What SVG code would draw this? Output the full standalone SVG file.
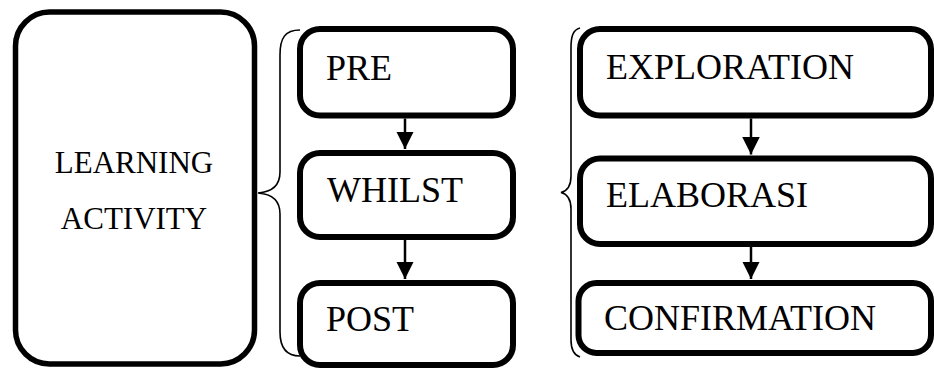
<svg xmlns="http://www.w3.org/2000/svg" width="934" height="369" viewBox="0 0 934 369">
<style>
.box{fill:#fff;stroke:#000;stroke-width:6}
.big{fill:#fff;stroke:#000;stroke-width:5.5}
.t{font-family:"Liberation Serif","Times New Roman",serif;font-size:36px;fill:#000}
.tl{font-family:"Liberation Serif","Times New Roman",serif;font-size:31px;fill:#000;text-anchor:middle}
.brace{fill:none;stroke:#000;stroke-width:1.6}
.ln{stroke:#000;stroke-width:2.5}
</style>
<defs>
<marker id="ah" markerWidth="8" markerHeight="7" refX="7" refY="3.5" orient="auto" markerUnits="strokeWidth">
<path d="M0,0 L7,3.5 L0,7 Z" fill="#000"/>
</marker>
</defs>
<rect width="934" height="369" fill="#fff"/>
<g id="learning-activity">
<rect class="big" x="15.5" y="12" width="239" height="352" rx="34"/>
<text class="tl" x="134" y="173">LEARNING</text>
<text class="tl" x="134" y="229">ACTIVITY</text>
</g>
<g id="pre">
<rect class="box" x="300" y="29" width="213" height="86.5" rx="20"/>
<text class="t" x="326" y="80">PRE</text>
</g>
<g id="whilst">
<rect class="box" x="300" y="153" width="213" height="84" rx="20"/>
<text class="t" x="327" y="202">WHILST</text>
</g>
<g id="post">
<rect class="box" x="300" y="283" width="213" height="82" rx="20"/>
<text class="t" x="326" y="331">POST</text>
</g>
<g id="exploration">
<rect class="box" x="580" y="29" width="351" height="86.5" rx="20"/>
<text class="t" x="606" y="79">EXPLORATION</text>
</g>
<g id="elaborasi">
<rect class="box" x="580" y="158.5" width="351" height="85.5" rx="20"/>
<text class="t" x="606" y="207">ELABORASI</text>
</g>
<g id="confirmation">
<rect class="box" x="578.5" y="283" width="352.5" height="70" rx="18"/>
<text class="t" x="604" y="330">CONFIRMATION</text>
</g>
<g id="connectors">
<path class="brace" d="M300,30 C285,30 280,38 280,55 L280,172 C280,186 272,192 258,193 C272,194 280,200 280,214 L280,332 C280,348 286,356 300,356"/>
<path class="brace" d="M580,28 C573,30 571,36 571,48 L571,176 C571,186 567,191 561,192.5 C567,194 571,199 571,209 L571,340 C571,350 574,355 580,357"/>
<line class="ln" x1="405" y1="118.5" x2="405" y2="149" marker-end="url(#ah)"/>
<line class="ln" x1="405" y1="240" x2="405" y2="279" marker-end="url(#ah)"/>
<line class="ln" x1="751" y1="118.5" x2="751" y2="154.5" marker-end="url(#ah)"/>
<line class="ln" x1="751" y1="247" x2="751" y2="279" marker-end="url(#ah)"/>
</g>
</svg>
